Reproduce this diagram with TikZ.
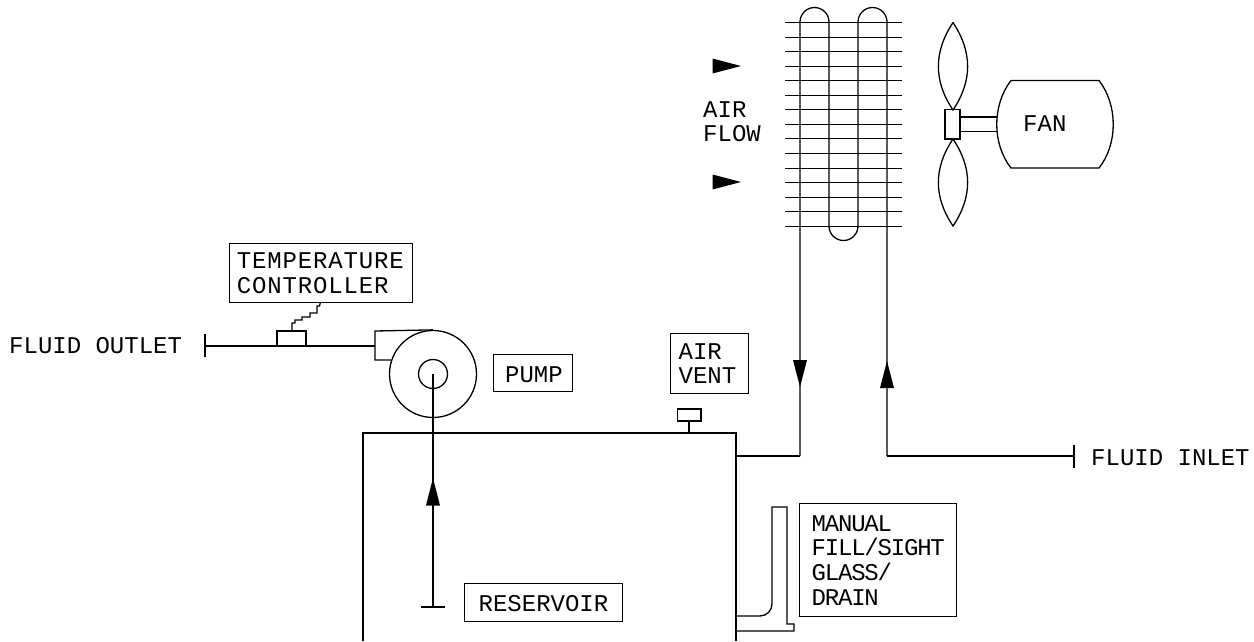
\documentclass[tikz,border=0pt]{standalone}
\usepackage{fontspec}
\setmainfont{Liberation Mono}
\usetikzlibrary{arrows.meta}

\tikzset{
  pipe/.style={line width=1.3pt},
  tag/.style={font=\fontsize{24}{24.7}\selectfont,inner sep=0pt,align=left},
  tagbox/.style={tag,draw,line width=1.3pt,anchor=north west},
  tight/.style={font=\fontsize{24}{24.7}\selectfont\addfontfeature{LetterSpace=-5}},
  wide/.style={font=\fontsize{24}{25.5}\selectfont\addfontfeature{LetterSpace=3.5}},
  flowtip/.style={fill=black,draw=none}
}

\begin{document}
\begin{tikzpicture}[x=1pt,y=-1pt]
\useasboundingbox (0,0) rectangle (1254,641);

% Coil
\foreach \n in {0,...,14} {
    \pgfmathsetmacro{\yf}{round(22+14.55*\n)+0.5}
    \draw[pipe] (785,\yf) -- (902,\yf);
}
\coordinate (coilin) at (887,456);
\coordinate (coilout) at (800,456);
\draw[pipe] (coilout) -- (800,22) arc[start angle=180,end angle=360,radius=14.5]
    -- (829,226) arc[start angle=180,end angle=0,radius=14.5]
    -- (858,22) arc[start angle=180,end angle=360,radius=14.5] -- (coilin);

% Air flow arrows
\foreach \yf in {66,182} {
    \fill[flowtip] (712.5,\yf-7.5) -- (741,\yf) -- (712.5,\yf+7.5) -- cycle;
}
\node[tag,anchor=base west] (airflow) at (703,117) {AIR};
\node[tag,anchor=base west] (airflowb) at (703,141.7) {FLOW};

% Fan
\draw[pipe] (953,22.5) .. controls (933.5,52) and (933.5,81) .. (953,110)
    .. controls (972.5,81) and (972.5,52) .. (953,22.5);
\draw[pipe] (953,139) .. controls (933.5,168) and (933.5,197) .. (953,226)
    .. controls (972.5,197) and (972.5,168) .. (953,139);
\draw[pipe] (945,109.5) rectangle (960,139);
\draw[pipe] (960,117) -- (997,117);
\draw[pipe] (960,131.7) -- (997,131.7);
\draw[pipe] (1011,80.5) -- (1099,80.5) .. controls (1118,105) and (1118,144) .. (1099,168)
    -- (1011,168) .. controls (992,144) and (992,105) .. (1011,80.5);
\node[tag,anchor=base west] (fan) at (1023,131) {FAN};

% Pipes to and from the reservoir
\draw[pipe] (736,456) -- (coilout);
\fill[flowtip] (793,360) -- (807,360) -- (800,387) -- cycle;
\coordinate (inletend) at (1074,456);
\draw[pipe] (coilin) -- (inletend);
\draw[pipe] (1074,445) -- (1074,468);
\fill[flowtip] (880,388) -- (894,388) -- (887,361) -- cycle;
\node[tag,anchor=base west] (inlet) at (1091,465) {FLUID INLET};

% Reservoir
\draw[pipe] (363,641) -- (363,433) -- (736,433) -- (736,641);
\node[tagbox,minimum width=158pt,minimum height=38pt,text width=130pt,text height=18pt] (reservoir) at (464,583) {RESERVOIR};

% Air vent
\draw[pipe] (689,433) -- (689,421);
\draw[pipe] (677.5,409) rectangle (701,421);
\node[tagbox,minimum width=78pt,minimum height=60pt,text width=62pt] (vent) at (670,333) {AIR\\VENT};

% Sight glass
\draw[pipe] (736,616) -- (760,616) arc[start angle=90,end angle=0,radius=12] -- (772,507)
    -- (787,507) -- (787,624) -- (794,624) -- (794,631) -- (736,631);
\node[tagbox,tight,minimum width=157pt,minimum height=113pt,text width=133pt] (drain) at (799,503) {MANUAL\\FILL/SIGHT\\GLASS/\\DRAIN};

% Pump
\node[draw,circle,line width=1.3pt,minimum size=87pt,inner sep=0pt] (pump) at (433,374) {};
\node[draw,circle,line width=1.3pt,minimum size=29pt,inner sep=0pt] (pumpeye) at (433,374) {};
\draw[pipe] (pump.north) -- (375,331) -- (375,360) -- (391,360);
\node[tagbox,minimum width=79pt,minimum height=37pt,text width=55pt,text height=18pt] (pumplabel) at (492.5,354) {PUMP};

% Suction line
\draw[pipe] (pump.center) -- (433,607);
\draw[pipe] (421,607) -- (445,607);
\fill[flowtip] (426,505.5) -- (440,505.5) -- (433,478) -- cycle;

% Outlet line and controller
\draw[pipe] (205,346) -- (375,346);
\draw[pipe] (205,334) -- (205,357);
\draw[pipe] (277,346) -- (277,331) -- (306,331) -- (306,346);
\node[tagbox,wide,minimum width=183.5pt,minimum height=59pt,text width=168pt] (controller) at (228.5,243) {TEMPERATURE\\CONTROLLER};
\draw[pipe] (320.5,302) -- (319.5,306) -- (317,306) -- (317,313) -- (310,313) -- (310,317)
    -- (302,317) -- (302,320) -- (295,320) -- (295,323) -- (292,323) -- (292,331);
\node[tag,anchor=base west] (outlet) at (9,353) {FLUID OUTLET};
\end{tikzpicture}
\end{document}
